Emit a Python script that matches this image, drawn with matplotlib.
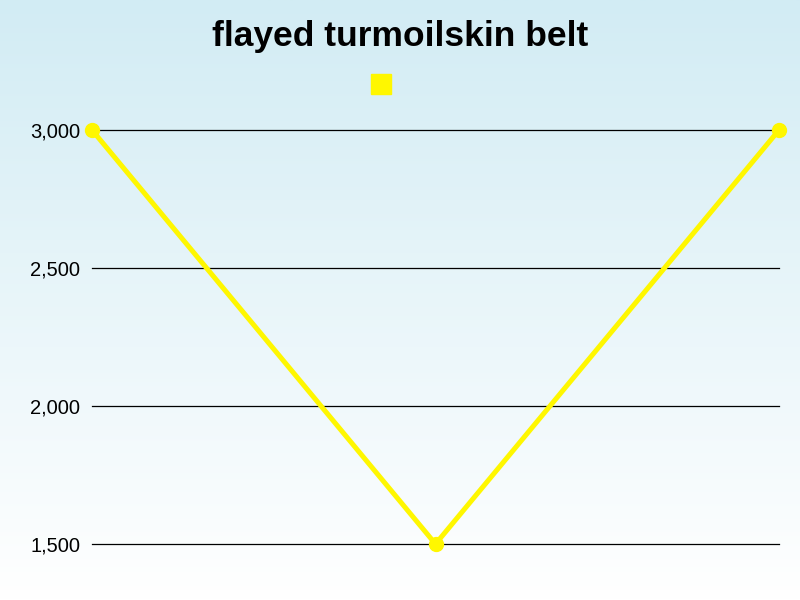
import numpy as np
import matplotlib
matplotlib.use("Agg")
import matplotlib.pyplot as plt
from matplotlib.lines import Line2D

plt.rcParams["font.family"] = ["Liberation Sans", "DejaVu Sans"]

# data
categories = ["A", "B", "C"]
values = [3000, 1500, 3000]
y_ticks = [1500, 2000, 2500, 3000]
title = "flayed turmoilskin belt"
line_color = "#fff700"

fig = plt.figure(figsize=(8, 6), dpi=100)

# gradient background: light blue at the top, white at the bottom
bg = fig.add_axes([0, 0, 1, 1], zorder=-10)
grad = np.linspace(0, 1, 256).reshape(-1, 1)
top = np.array([210, 236, 244]) / 255
bottom = np.array([255, 255, 255]) / 255
img = top + (bottom - top) * grad[:, :, None]
bg.imshow(img, aspect="auto", extent=[0, 1, 0, 1], origin="upper")
bg.axis("off")

ax = fig.add_axes([92 / 800, 1 - 544 / 600, (779 - 92) / 800, (544 - 130) / 600])
ax.patch.set_alpha(0)
x = np.arange(len(categories))
ax.plot(x, values, color=line_color, lw=3.6, marker="o", markersize=10,
        clip_on=False, zorder=3)
ax.set_xlim(x[0], x[-1])
ax.set_ylim(1500, 3000)
ax.set_yticks(y_ticks)
ax.set_yticklabels([f"{v:,}" for v in y_ticks], fontsize=14.5)
ax.set_xticks([])
ax.tick_params(axis="y", length=0, pad=8.6)
ax.grid(axis="y", color="black", lw=0.9)
for gl in ax.get_ygridlines():
    gl.set_clip_on(False)
ax.set_axisbelow(True)
for s in ax.spines.values():
    s.set_visible(False)

fig.text(0.5, 1 - 46 / 600, title, ha="center", va="baseline",
         fontsize=25.5, fontweight="bold")

h = Line2D([], [], color=line_color, marker="s", markersize=14, linestyle="none")
fig.legend(handles=[h], labels=[""], loc="center",
           bbox_to_anchor=(381 / 800, 1 - 85 / 600), frameon=False,
           handlelength=1, handletextpad=0, borderpad=0)

fig.savefig("out.png", dpi=100)
